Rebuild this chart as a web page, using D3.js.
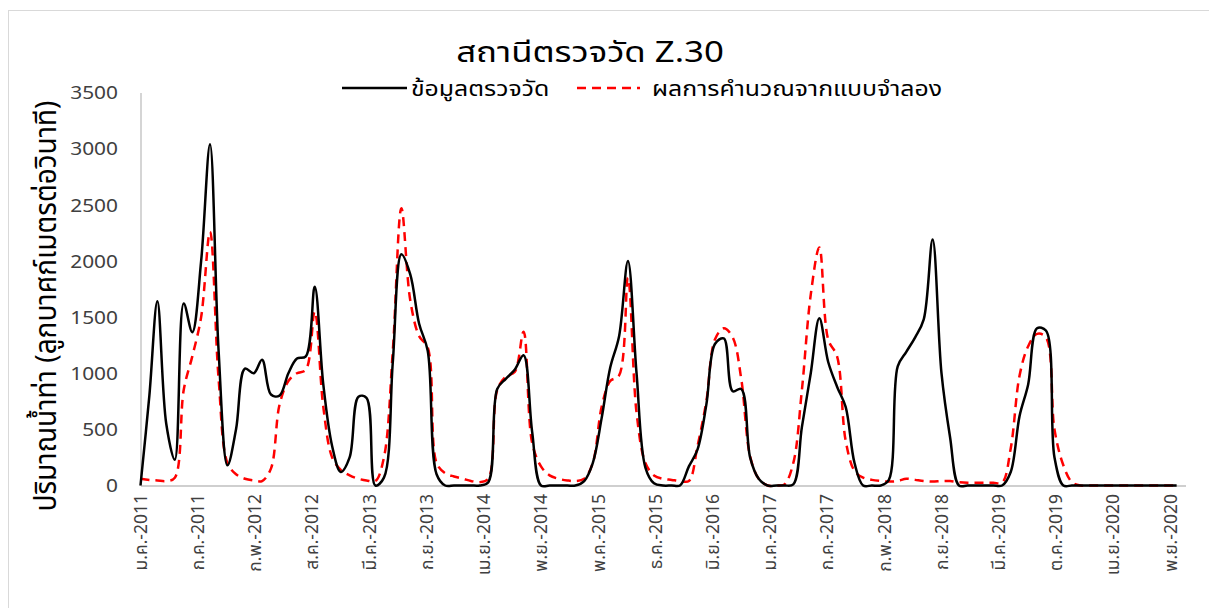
<!DOCTYPE html>
<html><head><meta charset="utf-8">
<script src="https://cdn.jsdelivr.net/npm/d3@7"></script>
<style>
body{margin:0;background:#fff}
svg{display:block}
text{font-family:"Noto Sans Thai","Noto Sans Thai UI","Noto Looped Thai","Tahoma","Liberation Sans","DejaVu Sans",sans-serif}
</style>
</head><body>
<svg id="c" width="1209" height="608"></svg>
<script>
const chartTitle = "สถานีตรวจวัด Z.30";
const seriesNames = ["ข้อมูลตรวจวัด", "ผลการคำนวณจากแบบจำลอง"];
const yAxisTitle = "ปริมาณน้ำท่า (ลูกบาศก์เมตรต่อวินาที)";
const yTicks = [0, 500, 1000, 1500, 2000, 2500, 3000, 3500];
const xTickDates = ["2011-01-01","2011-07-20","2012-02-05","2012-08-23","2013-03-11","2013-09-27","2014-04-15","2014-11-01","2015-05-20","2015-12-06","2016-06-23","2017-01-09","2017-07-28","2018-02-13","2018-09-01","2019-03-20","2019-10-06","2020-04-23","2020-11-09"];
const xTickLabels = ["ม.ค.-2011","ก.ค.-2011","ก.พ.-2012","ส.ค.-2012","มี.ค.-2013","ก.ย.-2013","เม.ย.-2014","พ.ย.-2014","พ.ค.-2015","ธ.ค.-2015","มิ.ย.-2016","ม.ค.-2017","ก.ค.-2017","ก.พ.-2018","ก.ย.-2018","มี.ค.-2019","ต.ค.-2019","เม.ย.-2020","พ.ย.-2020"];

// monthly values, Jan 2011 .. Dec 2020
const observed = [
  0, 800, 1640, 550, 230, 1620, 1365, 2000, 3040, 1200, 180, 500,      // 2011
  1040, 1000, 1120, 810, 800, 1000, 1130, 1150, 1770, 900, 350, 120,   // 2012
  250, 790, 780, 0, 70, 1100, 2060, 1880, 1440, 1200, 100, 0,          // 2013
  0, 0, 0, 0, 30, 860, 950, 1030, 1160, 480, 0, 0,                     // 2014
  0, 0, 0, 40, 200, 600, 1050, 1330, 2000, 1000, 160, 20,              // 2015
  0, 0, 0, 170, 320, 720, 1260, 1310, 840, 860, 250, 60,               // 2016
  0, 0, 0, 10, 520, 1000, 1490, 1100, 880, 700, 200, 0,                // 2017
  0, 0, 50, 1060, 1190, 1320, 1480, 2190, 1000, 430, 0, 0,             // 2018
  0, 0, 0, 0, 120, 620, 900, 1400, 1380, 250, 0, 0,                    // 2019
  0, 0, 0, 0, 0, 0, 0, 0, 0, 0, 0, 0                                   // 2020
];
const simulated = [
  60, 50, 45, 40, 70, 850, 1150, 1500, 2260, 950, 200, 100,            // 2011
  60, 45, 40, 150, 720, 930, 1000, 1030, 1550, 700, 250, 140,          // 2012
  90, 60, 45, 40, 250, 1200, 2470, 1650, 1330, 1230, 200, 110,         // 2013
  80, 60, 40, 30, 60, 850, 970, 1010, 1370, 380, 170, 90,              // 2014
  60, 45, 40, 60, 200, 700, 930, 980, 1850, 650, 200, 90,              // 2015
  60, 50, 40, 40, 350, 750, 1300, 1400, 1320, 950, 260, 60,            // 2016
  0, 0, 10, 200, 850, 1700, 2120, 1300, 1150, 400, 130, 70,            // 2017
  50, 40, 35, 40, 60, 50, 40, 35, 40, 40, 30, 25,                      // 2018
  25, 25, 25, 25, 330, 980, 1240, 1350, 1320, 500, 180, 30,            // 2019
  0, 0, 0, 0, 0, 0, 0, 0, 0, 0, 0, 0                                   // 2020
];

const months = d3.timeMonth.range(new Date(2011, 0, 1), new Date(2021, 0, 1));
const parse = d3.timeParse("%Y-%m-%d");

const svg = d3.select("#c");
const X0 = 140.5, X1 = 1185.5, Y0 = 485.5, Y1 = 92.5;

// frame
svg.append("rect").attr("x", 8.5).attr("y", 10.5).attr("width", 1220).attr("height", 620)
  .attr("fill", "none").attr("stroke", "#d9d9d9");

const x = d3.scaleTime().domain([new Date(2011, 0, 1), new Date(2021, 0, 1)]).range([X0, X1]);
const y = d3.scaleLinear().domain([0, 3500]).range([Y0, Y1]);

function txt(px, py, s, o) {
  const g = svg.append("g")
    .attr("transform", `translate(${px},${py}) scale(${o.sx || 1},1)` + (o.rot ? ` rotate(${o.rot})` : ""));
  return g.append("text").text(s)
    .attr("font-size", o.size).attr("fill", o.fill || "#000")
    .attr("text-anchor", o.anchor || "start")
    .attr("dy", o.dy || 0)
    .attr("font-weight", o.weight || "normal");
}

// axes
const yAxis = d3.axisLeft(y).tickValues(yTicks).tickSize(0).tickFormat(() => "");
svg.append("g").attr("transform", `translate(${X0},0)`).call(yAxis)
  .call(g => g.select(".domain").attr("stroke", "#bfbfbf").attr("stroke-width", 1.3));
const xAxis = d3.axisBottom(x).tickValues(xTickDates.map(parse)).tickSize(0).tickFormat(() => "");
svg.append("g").attr("transform", `translate(0,${Y0})`).call(xAxis)
  .call(g => g.select(".domain").attr("stroke", "#bfbfbf").attr("stroke-width", 1.3));

yTicks.forEach(v => {
  txt(118, y(v), String(v), {size: 19, sx: 1.1, anchor: "end", dy: "0.36em", fill: "#404040"});
});
xTickDates.forEach((d, i) => {
  txt(x(parse(d)), 494, xTickLabels[i], {size: 17.5, sx: 1.0, rot: -90, anchor: "end", dy: "0.36em", fill: "#404040"});
});

// y title
txt(45, 306, yAxisTitle, {size: 28, sx: 1.05, rot: -90, anchor: "middle", dy: "0.36em"});

// title
txt(590, 62, chartTitle, {size: 29, sx: 1.2, anchor: "middle"});

// legend
svg.append("line").attr("x1", 342).attr("x2", 407).attr("y1", 88).attr("y2", 88)
  .attr("stroke", "#000").attr("stroke-width", 2.5);
txt(411, 88, seriesNames[0], {size: 22, sx: 1.13, dy: "0.36em"});
svg.append("line").attr("x1", 577).attr("x2", 640).attr("y1", 88).attr("y2", 88)
  .attr("stroke", "#ff0000").attr("stroke-width", 2.5).attr("stroke-dasharray", "9,6");
txt(652, 88, seriesNames[1], {size: 22, sx: 1.13, dy: "0.36em"});

// lines
const line = d3.line().x((d, i) => x(months[i])).y(d => y(d)).curve(d3.curveCatmullRom.alpha(0.5));
svg.append("path").datum(simulated).attr("d", line).attr("fill", "none")
  .attr("stroke", "#ff0000").attr("stroke-width", 2.5).attr("stroke-dasharray", "9,6");
svg.append("path").datum(observed).attr("d", line).attr("fill", "none")
  .attr("stroke", "#000").attr("stroke-width", 2.5);
</script>
</body></html>
